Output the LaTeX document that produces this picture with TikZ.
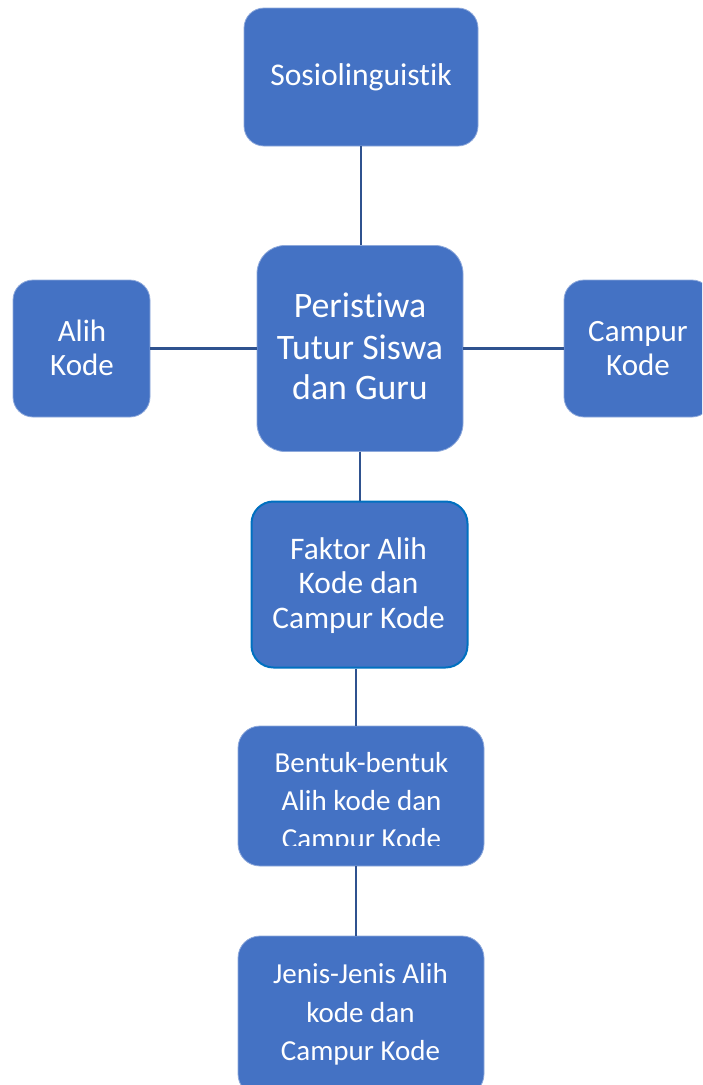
\documentclass[tikz,border=0pt]{standalone}
\usepackage{fontspec}
\setmainfont{Carlito}[Ligatures={NoCommon}]
\definecolor{boxfill}{HTML}{4472C4}
\definecolor{boxedge}{HTML}{8EA9DB}
\definecolor{linkblue}{HTML}{2F528F}
\definecolor{accentedge}{HTML}{0070C0}
\tikzset{
  card/.style={fill=boxfill, draw=boxedge, line width=0.8pt, inner sep=0pt},
  lbl/.style={anchor=base, text=white, inner sep=0pt},
  link/.style={draw=linkblue, line width=2.5pt},
}
\newcommand{\fs}[1]{\fontsize{#1}{#1}\selectfont}
\begin{document}
\begin{tikzpicture}[x=1pt,y=-1pt]
\useasboundingbox (0,0) rectangle (702,1085);
\clip (0,0) rectangle (702,1085);

% boxes
\node[card, minimum width=234, minimum height=138, rounded corners=20] (sosio) at (361,77) {};
\node[card, minimum width=206, minimum height=206, rounded corners=28] (peri) at (360,348.5) {};
\node[card, minimum width=137, minimum height=137, rounded corners=20] (alih) at (81.5,348.5) {};
\node[card, minimum width=148, minimum height=137, rounded corners=20] (campur) at (638,348.5) {};
\node[card, draw=accentedge, line width=2pt, minimum width=216, minimum height=166, rounded corners=22] (faktor) at (359.5,584.5) {};
\node[card, minimum width=246, minimum height=140, rounded corners=22] (bentuk) at (361,796) {};
\node[card, minimum width=246, minimum height=160, rounded corners=22] (jenis) at (361,1016) {};

% connectors
\draw[link] (sosio.south) -- (sosio.south |- peri.north);
\draw[link] (alih.east) -- (peri.west);
\draw[link] (peri.east) -- (campur.west);
\draw[link] (peri.south) -- (peri.south |- faktor.north);
\draw[link] ([xshift=-3.5pt]faktor.south) -- ([xshift=-3.5pt]faktor.south |- bentuk.north);
\draw[link] ([xshift=-5pt]bentuk.south) -- ([xshift=-5pt]bentuk.south |- jenis.north);

% labels
\node[lbl, font=\fs{31.6}] (sosioA) at (361,85) {Sosiolinguistik};

\node[lbl, font=\fs{31}] (alihA) at (82,341) {Alih};
\node[lbl, font=\fs{31}] (alihB) at (82,375) {Kode};

\node[lbl, font=\fs{31}] (campurA) at (638,341) {Campur};
\node[lbl, font=\fs{31}] (campurB) at (638,375) {Kode};

\node[lbl, font=\fs{35.8}] (periA) at (360,317) {Peristiwa};
\node[lbl, font=\fs{35.8}] (periB) at (360,359) {Tutur Siswa};
\node[lbl, font=\fs{35.8}] (periC) at (360,399) {dan Guru};

\node[lbl, font=\fs{31.4}] (faktorA) at (358.5,559) {Faktor Alih};
\node[lbl, font=\fs{31.4}] (faktorB) at (358.5,593) {Kode dan};
\node[lbl, font=\fs{31.4}] (faktorC) at (358.5,628) {Campur Kode};

\begin{scope}
  \clip (238,726) rectangle (484,845.5);
  \node[lbl, font=\fs{29}] (bentukA) at (361.5,772) {Bentuk-bentuk};
  \node[lbl, font=\fs{29}] (bentukB) at (361.5,810) {Alih kode dan};
  \node[lbl, font=\fs{29}] (bentukC) at (361.5,848) {Campur Kode};
\end{scope}

\node[lbl, font=\fs{29}] (jenisA) at (360.5,983) {Jenis-Jenis Alih};
\node[lbl, font=\fs{29}] (jenisB) at (360.5,1022) {kode dan};
\node[lbl, font=\fs{29}] (jenisC) at (360.5,1060) {Campur Kode};
\end{tikzpicture}
\end{document}
